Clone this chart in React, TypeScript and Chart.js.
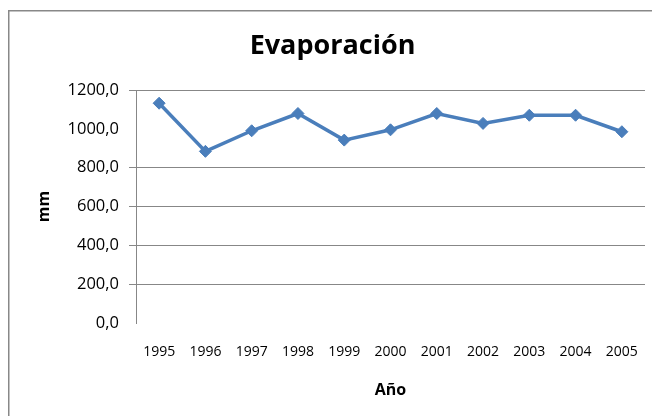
import React, { useEffect, useRef } from "react";
import { Chart, registerables } from "chart.js";

Chart.register(...registerables);

const years: string[] = ["1995", "1996", "1997", "1998", "1999", "2000", "2001", "2002", "2003", "2004", "2005"];
const evaporacion: number[] = [1132, 884, 990, 1079, 942, 995, 1079, 1028, 1070, 1070, 985];
const yMin = 0;
const yMax = 1200;
const yStep = 200;
const hiddenGridValues: number[] = [0, 1000];

const titleText = "Evaporación";
const xTitle = "Año";
const yTitle = "mm";

const LINE_COLOR = "#4A7EBB";
const GRID_COLOR = "#878787";
const FONT = "'Open Sans', 'DejaVu Sans', sans-serif";

const frame = {
  id: "frame",
  beforeDraw(chart: any) {
    const ctx = chart.ctx;
    ctx.save();
    ctx.fillStyle = "#ffffff";
    ctx.fillRect(0, 0, chart.width, chart.height);
    ctx.strokeStyle = "#888888";
    ctx.lineWidth = 1.5;
    ctx.beginPath();
    ctx.moveTo(8.75, chart.height);
    ctx.lineTo(8.75, 10.75);
    ctx.lineTo(chart.width, 10.75);
    ctx.stroke();
    ctx.restore();
  },
};

export default function App() {
  const ref = useRef<HTMLCanvasElement | null>(null);

  useEffect(() => {
    if (!ref.current) return;
    const chart = new Chart(ref.current, {
      type: "line",
      data: {
        labels: years,
        datasets: [
          {
            label: "Evaporación",
            data: evaporacion,
            borderColor: LINE_COLOR,
            backgroundColor: LINE_COLOR,
            borderWidth: 3.5,
            tension: 0,
            pointStyle: "rectRot",
            pointRadius: 6,
            pointBackgroundColor: LINE_COLOR,
            pointBorderColor: LINE_COLOR,
            pointBorderWidth: 1,
          },
        ],
      },
      options: {
        responsive: false,
        animation: false,
        layout: { padding: { left: 20, right: 27, top: 0, bottom: 0 } },
        plugins: {
          legend: { display: false },
          tooltip: { enabled: false },
          title: {
            display: true,
            text: titleText,
            color: "#000",
            font: { family: FONT, size: 27, weight: "bold", lineHeight: 1.2 },
            padding: { top: 30.3, bottom: 27.3 },
          },
        },
        scales: {
          x: {
            offset: true,
            grid: { display: false, drawTicks: false },
            border: { display: false },
            ticks: {
              color: "#000",
              font: { family: FONT, size: 14 },
              padding: 20.6,
              maxRotation: 0,
              autoSkip: false,
            },
            title: {
              display: true,
              text: xTitle,
              color: "#000",
              font: { family: FONT, size: 16, weight: "bold", lineHeight: 1.2 },
              padding: { top: 0, bottom: 16.4 },
            },
            afterFit(scale: any) {
              scale.height = 93;
            },
          },
          y: {
            min: yMin,
            max: yMax,
            grid: {
              color: (ctx: any) =>
                ctx.tick && hiddenGridValues.includes(ctx.tick.value) ? "rgba(0,0,0,0)" : GRID_COLOR,
              lineWidth: 1,
              drawTicks: true,
              tickLength: 7,
            },
            border: { display: true, color: GRID_COLOR, width: 1 },
            ticks: {
              stepSize: yStep,
              color: "#000",
              font: { family: FONT, size: 16.5 },
              padding: 10,
              callback: (v: any) => Number(v).toFixed(1).replace(".", ","),
            },
            title: {
              display: true,
              text: yTitle,
              color: "#000",
              font: { family: FONT, size: 16, weight: "bold", lineHeight: 1.2 },
              padding: { top: 14.4, bottom: 0 },
            },
            afterFit(scale: any) {
              scale.width = 116;
            },
          },
        },
      },
      plugins: [frame],
    });
    return () => chart.destroy();
  }, []);

  return (
    <div style={{ position: "fixed", left: 0, top: 0, width: 652, height: 416, overflow: "hidden", background: "#fff" }}>
      <canvas ref={ref} width={672} height={416} style={{ display: "block", width: 672, height: 416 }} />
    </div>
  );
}
